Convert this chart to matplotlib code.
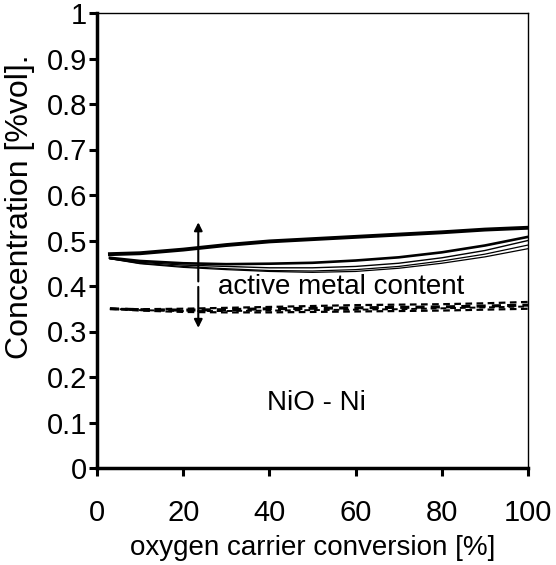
import matplotlib
matplotlib.use('Agg')
import matplotlib.pyplot as plt
import numpy as np

plt.rcParams['font.family'] = ['Liberation Sans', 'DejaVu Sans']

conversion = [3, 10, 20, 30, 40, 50, 60, 70, 80, 90, 100]

# solid curves (top one thick)
thick_line = [0.470, 0.472, 0.480, 0.490, 0.498, 0.503, 0.508, 0.513, 0.518, 0.524, 0.528]
mid_line = [0.462, 0.455, 0.450, 0.448, 0.449, 0.451, 0.456, 0.463, 0.474, 0.489, 0.508]
thin_line1 = [0.460, 0.452, 0.446, 0.443, 0.440, 0.440, 0.443, 0.450, 0.462, 0.478, 0.500]
thin_line2 = [0.460, 0.450, 0.443, 0.438, 0.434, 0.433, 0.436, 0.443, 0.455, 0.470, 0.490]
thin_line3 = [0.460, 0.449, 0.441, 0.436, 0.432, 0.430, 0.432, 0.439, 0.450, 0.464, 0.482]

# dashed curves
dash1 = [0.350, 0.348, 0.347, 0.348, 0.350, 0.351, 0.352, 0.353, 0.354, 0.356, 0.358]
dash2 = [0.350, 0.346, 0.343, 0.342, 0.342, 0.343, 0.344, 0.345, 0.346, 0.348, 0.350]
dash3 = [0.350, 0.349, 0.350, 0.352, 0.354, 0.356, 0.358, 0.359, 0.360, 0.362, 0.365]
dash4 = [0.350, 0.347, 0.345, 0.345, 0.346, 0.347, 0.348, 0.349, 0.351, 0.353, 0.355]

xticks = [0, 20, 40, 60, 80, 100]
yticks = [0, 0.1, 0.2, 0.3, 0.4, 0.5, 0.6, 0.7, 0.8, 0.9, 1]

fig = plt.figure(figsize=(5.56, 5.65), dpi=100)
ax = fig.add_axes([97/556, (565-468)/565, 431/556, 455/565])

ax.plot(conversion, thick_line, color='black', lw=2.8)
ax.plot(conversion, mid_line, color='black', lw=1.9)
ax.plot(conversion, thin_line1, color='black', lw=1.0)
ax.plot(conversion, thin_line2, color='black', lw=0.9)
ax.plot(conversion, thin_line3, color='black', lw=0.9)
for d, w in zip([dash1, dash2, dash3, dash4], [2.2, 1.6, 1.6, 1.4]):
    ax.plot(conversion, d, color='black', lw=w, ls=(0, (3, 2)))

# double arrow
ax.annotate('', xy=(23.5, 0.54), xytext=(23.5, 0.41),
            arrowprops=dict(arrowstyle='-|>', color='black', lw=1.5,
                            mutation_scale=12, shrinkA=0, shrinkB=0))
ax.annotate('', xy=(23.5, 0.308), xytext=(23.5, 0.398),
            arrowprops=dict(arrowstyle='-|>', color='black', lw=1.5,
                            mutation_scale=12, shrinkA=0, shrinkB=0))

ax.text(56.6, 0.398, 'active metal content', fontsize=20, ha='center', va='center')
ax.text(51, 0.143, 'NiO - Ni', fontsize=20, ha='center', va='center')

ax.set_xlim(0, 100)
ax.set_ylim(0, 1)
ax.set_xticks(xticks)
ax.set_yticks(yticks)
ax.set_xticklabels([str(t) for t in xticks])
ax.set_yticklabels(['0', '0.1', '0.2', '0.3', '0.4', '0.5', '0.6', '0.7', '0.8', '0.9', '1'])
ax.tick_params(direction='out', length=6, width=2.2, labelsize=21)
ax.tick_params(axis='x', pad=16)
ax.tick_params(axis='y', pad=1)
ax.spines['left'].set_linewidth(2.5)
ax.spines['bottom'].set_linewidth(2.5)
ax.spines['top'].set_linewidth(1.0)
ax.spines['right'].set_linewidth(1.0)
ax.set_xlabel('oxygen carrier conversion [%]', fontsize=20, labelpad=6)
ax.set_ylabel('Concentration [%vol].', fontsize=23)
ax.yaxis.set_label_coords(-0.143, 0.575)

plt.savefig('out.png', dpi=100)
